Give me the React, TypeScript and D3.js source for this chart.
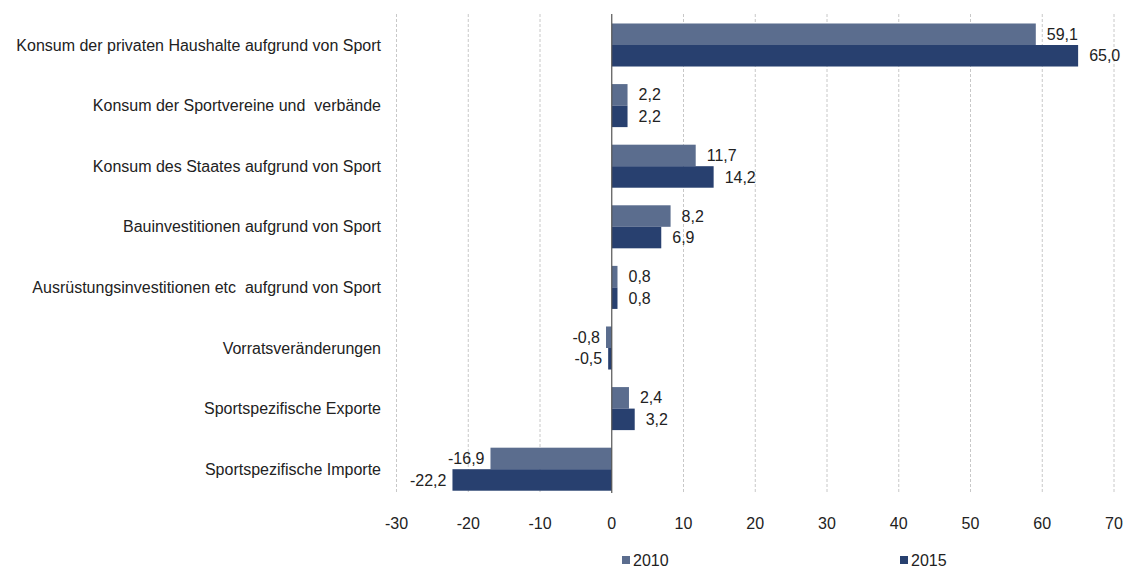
import React from "react";
import * as d3 from "d3";

const categories = [
  "Konsum der privaten Haushalte aufgrund von Sport",
  "Konsum der Sportvereine und  verbände",
  "Konsum des Staates aufgrund von Sport",
  "Bauinvestitionen aufgrund von Sport",
  "Ausrüstungsinvestitionen etc  aufgrund von Sport",
  "Vorratsveränderungen",
  "Sportspezifische Exporte",
  "Sportspezifische Importe",
];
const values2010 = [59.1, 2.2, 11.7, 8.2, 0.8, -0.8, 2.4, -16.9];
const values2015 = [65.0, 2.2, 14.2, 6.9, 0.8, -0.5, 3.2, -22.2];
const seriesNames = ["2010", "2015"];
const xTicks = [-30, -20, -10, 0, 10, 20, 30, 40, 50, 60, 70];

const colors = ["#5B6D8E", "#28406F"];
const FONT = "'Liberation Sans Narrow', 'Liberation Sans', Arial, sans-serif";

export default function App() {
  const W = 1128, H = 569;
  const x = d3.scaleLinear().domain([-30, 70]).range([396.5, 1114]);
  const y = d3.scaleBand<string>().domain(categories).range([14.7, 499.5]).paddingInner(0.29).paddingOuter(0.145);
  const sub = d3.scaleBand<string>().domain(seriesNames).range([0, y.bandwidth()]);
  const fmt = (v: number) => v.toFixed(1).replace(".", ",");
  const series = [values2010, values2015];

  return (
    <svg width={W} height={H} style={{ position: "absolute", left: 0, top: 0, background: "#fff" }}>
      {xTicks.filter(t => t !== 0).map(t => (
        <line key={t} x1={x(t)} x2={x(t)} y1={14} y2={493} stroke="#c8c8c8" strokeDasharray="3,2" strokeWidth={1} />
      ))}
      {series.map((vals, si) =>
        vals.map((v, i) => {
          const yy = (y(categories[i]) as number) + (sub(seriesNames[si]) as number);
          const x0 = x(Math.min(0, v));
          const w = Math.abs(x(v) - x(0));
          return <rect key={`${si}-${i}`} x={x0} y={yy} width={w} height={sub.bandwidth()} fill={colors[si]} />;
        })
      )}
      <line x1={x(0)} x2={x(0)} y1={14} y2={493} stroke="#555" strokeWidth={1.2} />
      {series.map((vals, si) =>
        vals.map((v, i) => {
          const yy = (y(categories[i]) as number) + (sub(seriesNames[si]) as number) + sub.bandwidth() / 2;
          const xx = v >= 0 ? x(v) + 11 : x(v) - 6;
          return (
            <text key={`l${si}-${i}`} x={xx} y={yy} dy="0.35em" textAnchor={v >= 0 ? "start" : "end"}
              fontFamily={FONT} fontSize={16} fill="#222">{fmt(v)}</text>
          );
        })
      )}
      {categories.map(c => (
        <text key={c} x={381} y={(y(c) as number) + y.bandwidth() / 2} dy="0.35em" textAnchor="end"
          fontFamily={FONT} fontSize={16} fill="#222" style={{ whiteSpace: "pre" }}>{c}</text>
      ))}
      {xTicks.map(t => (
        <text key={t} x={x(t)} y={523} dy="0.35em" textAnchor="middle" fontFamily={FONT} fontSize={16} fill="#222">{t}</text>
      ))}
      {seriesNames.map((s, i) => {
        const lx = i === 0 ? 622 : 900;
        return (
          <g key={s}>
            <rect x={lx} y={556} width={8} height={8} fill={colors[i]} />
            <text x={lx + 11} y={560} dy="0.35em" fontFamily={FONT} fontSize={16} fill="#222">{s}</text>
          </g>
        );
      })}
    </svg>
  );
}
